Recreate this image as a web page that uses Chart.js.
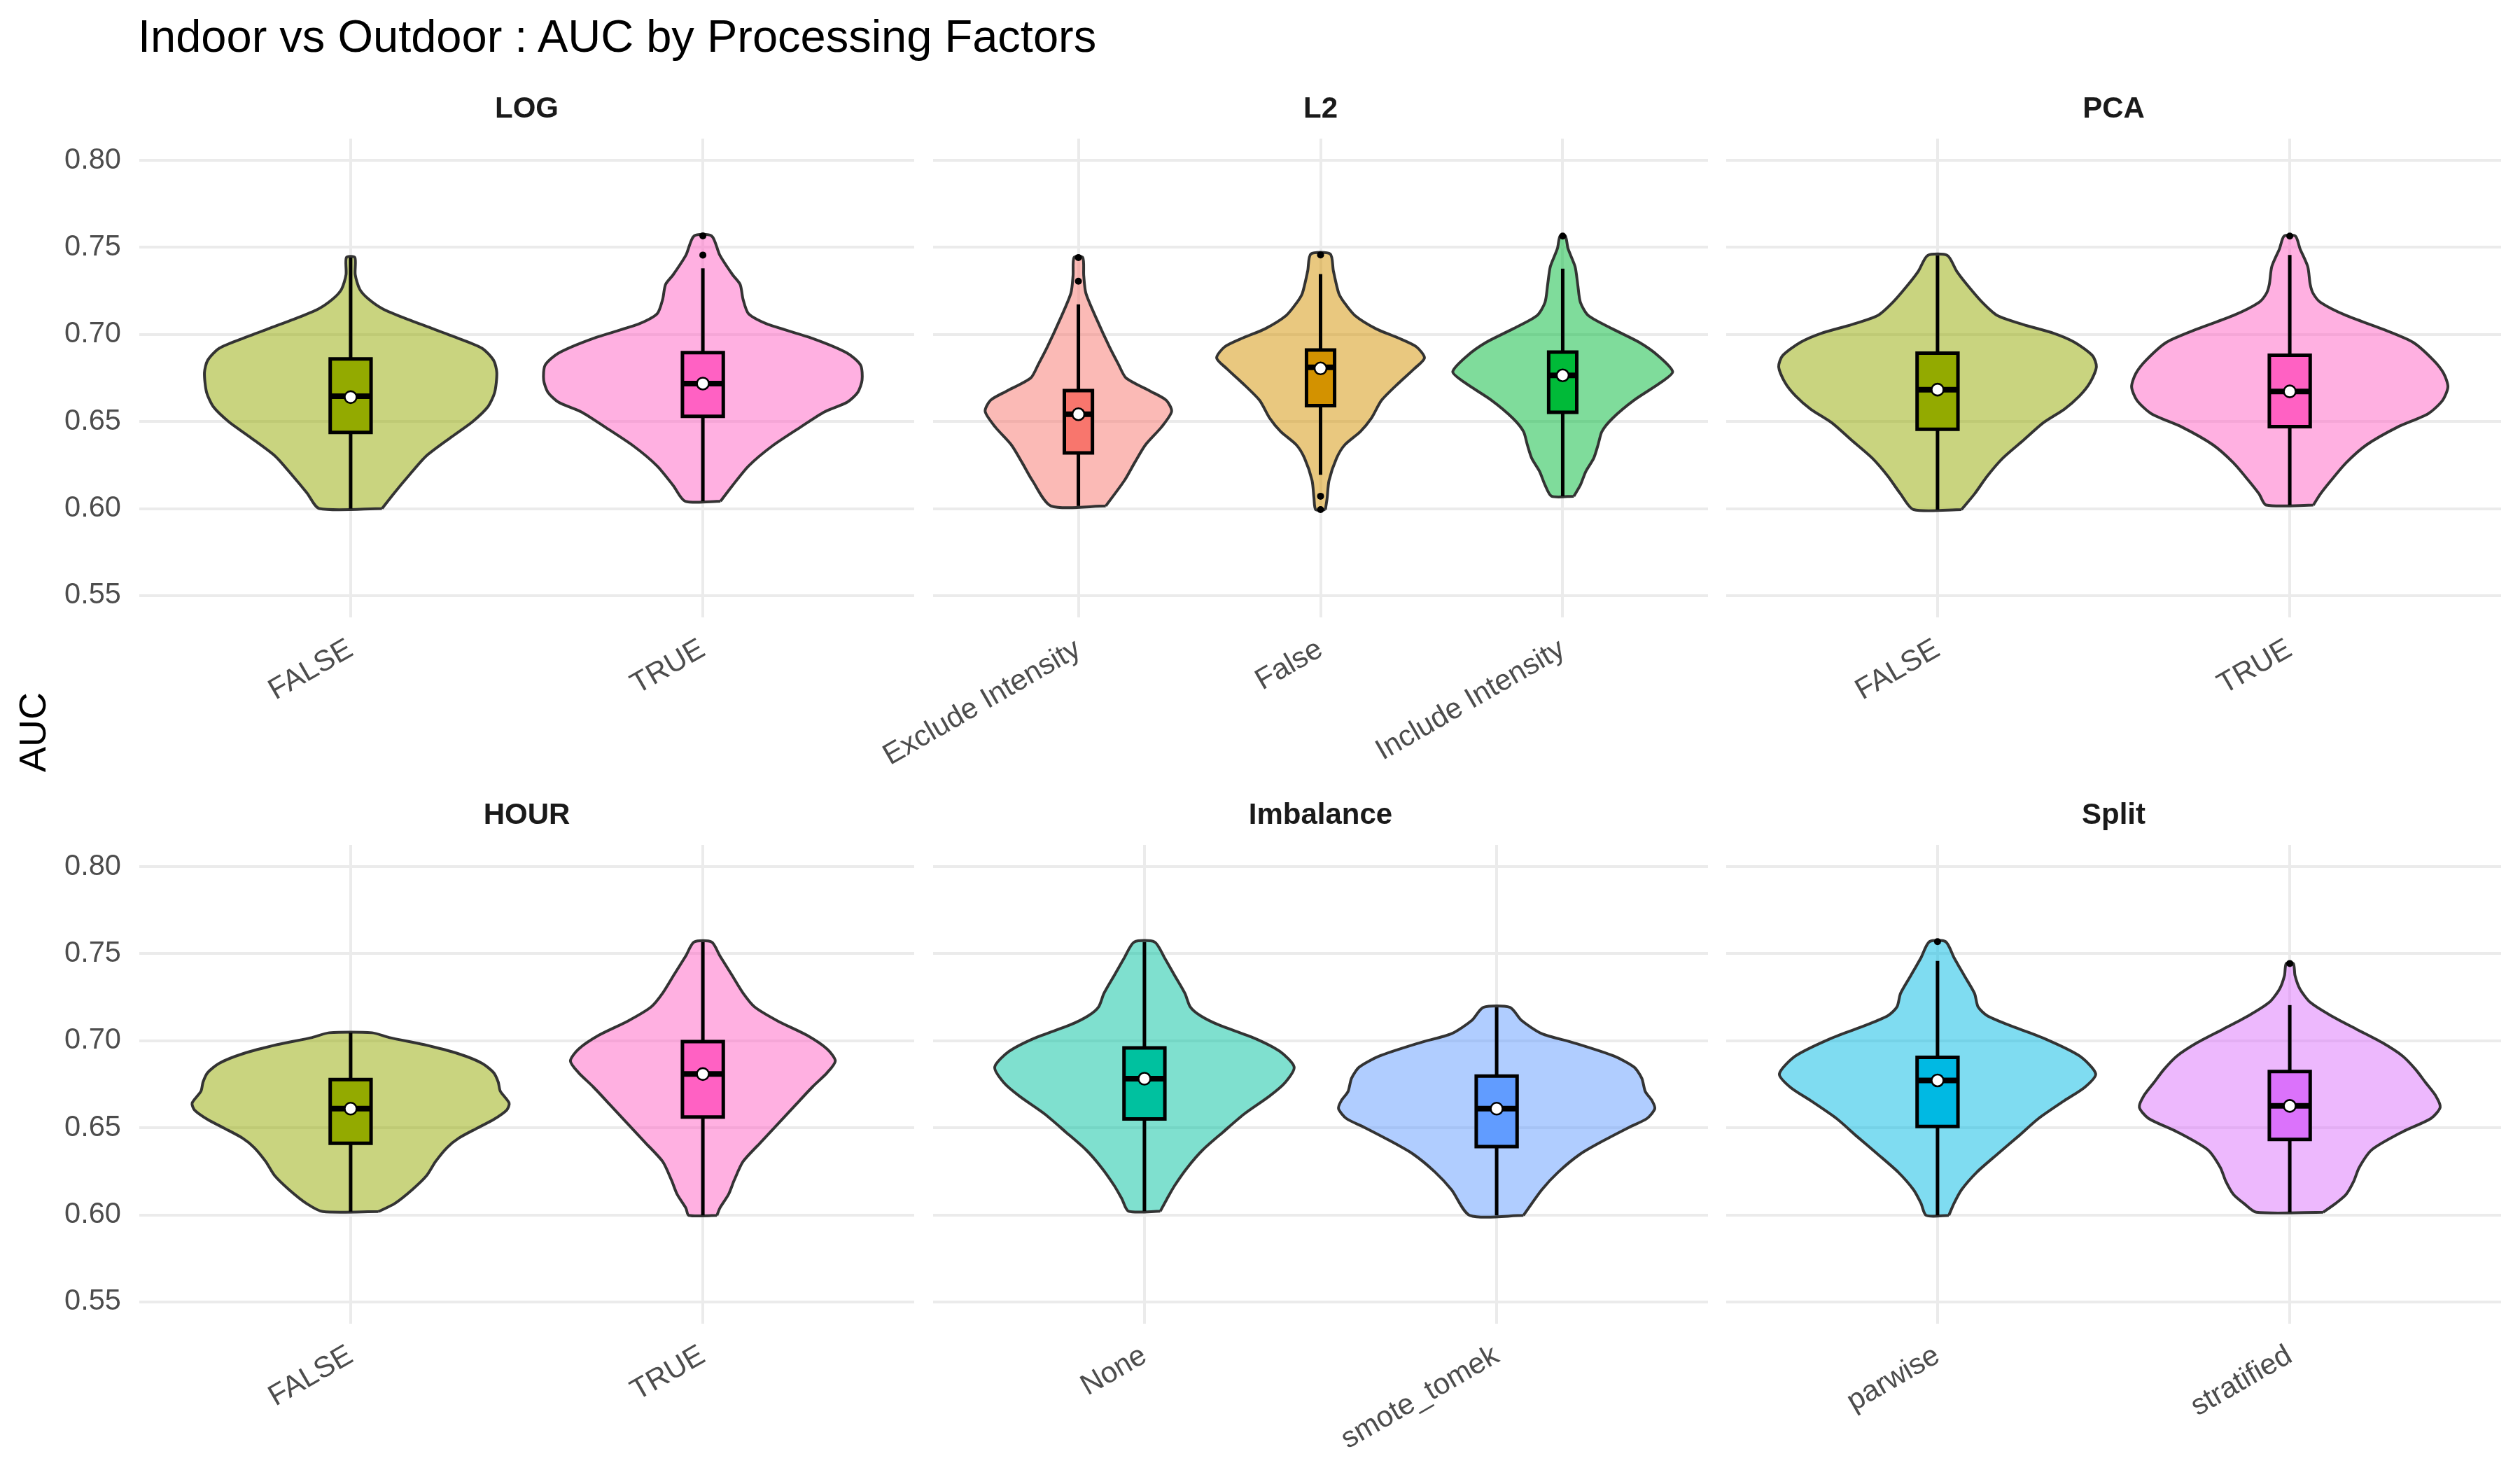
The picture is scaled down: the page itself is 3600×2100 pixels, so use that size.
<!DOCTYPE html>
<html>
<head>
<meta charset="utf-8">
<script src="https://cdn.jsdelivr.net/npm/chart.js@4/dist/chart.umd.min.js"></script>
<style>
html, body { margin: 0; padding: 0; background: #ffffff; }
#wrap { position: relative; width: 3600px; height: 2100px; background: #ffffff; overflow: hidden;
        font-family: "Liberation Sans", Arial, Helvetica, sans-serif; }
#title { position: absolute; left: 197px; top: 19px; font-size: 65px; line-height: 65px; color: #000000; white-space: nowrap; }
#ylab { position: absolute; left: 46px; top: 1046px; font-size: 54px; line-height: 54px; color: #000000; white-space: nowrap;
        transform: translate(-50%, -50%) rotate(-90deg); }
canvas { position: absolute; }
</style>
</head>
<body>
<div id="wrap">
  <div id="title">Indoor vs Outdoor : AUC by Processing Factors</div>
  <div id="ylab">AUC</div>
</div>
<script>
// ---------------- DATA ----------------
const panelNames = ["LOG", "L2", "PCA", "HOUR", "Imbalance", "Split"];
const catsLOG = ["FALSE", "TRUE"];
const catsL2 = ["Exclude Intensity", "False", "Include Intensity"];
const catsPCA = ["FALSE", "TRUE"];
const catsHOUR = ["FALSE", "TRUE"];
const catsImbalance = ["None", "smote_tomek"];
const catsSplit = ["parwise", "stratified"];
const yTicks = [0.55, 0.60, 0.65, 0.70, 0.75, 0.80];
const yMin = 0.5375, yMax = 0.8125;

// one entry per violin, in panel order
const violinPanel = [0, 0, 1, 1, 1, 2, 2, 3, 3, 4, 4, 5, 5];
const violinSlot  = [0, 1, 0, 1, 2, 0, 1, 0, 1, 0, 1, 0, 1];
const q1          = [0.6437, 0.6530, 0.6320, 0.6591, 0.6553, 0.6455, 0.6471, 0.6411, 0.6562, 0.6551, 0.6392, 0.6508, 0.6433];
const median      = [0.6645, 0.6718, 0.6542, 0.6811, 0.6765, 0.6683, 0.6673, 0.6610, 0.6809, 0.6782, 0.6610, 0.6772, 0.6626];
const q3          = [0.6860, 0.6896, 0.6678, 0.6911, 0.6899, 0.6893, 0.6881, 0.6777, 0.6995, 0.6959, 0.6797, 0.6905, 0.6823];
const mean        = [0.6640, 0.6718, 0.6542, 0.6805, 0.6765, 0.6683, 0.6673, 0.6610, 0.6809, 0.6782, 0.6610, 0.6772, 0.6626];
const whiskerLow  = [0.6000, 0.6042, 0.6015, 0.6194, 0.6071, 0.5994, 0.6020, 0.6019, 0.5997, 0.6021, 0.5997, 0.5997, 0.6015];
const whiskerHigh = [0.7442, 0.7380, 0.7173, 0.7347, 0.7378, 0.7454, 0.7457, 0.7046, 0.7567, 0.7567, 0.7192, 0.7459, 0.7205];
const outliers    = [[], [0.7566, 0.7456], [0.7442, 0.7306], [0.7457, 0.6071, 0.5994], [0.7565], [], [0.7565], [], [], [], [], [0.7569], [0.7444]];

// violin outlines: AUC levels (ascending) and half-widths (category units)
const vAucLogF = [0.6000,0.6090,0.6189,0.6301,0.6414,0.6499,0.6583,0.6668,0.6780,0.6851,0.6921,0.6977,0.7034,0.7090,0.7146,0.7203,0.7259,0.7344,0.7442];
const vHwLogF  = [0.089,0.124,0.165,0.214,0.288,0.346,0.389,0.409,0.415,0.406,0.373,0.307,0.232,0.158,0.092,0.051,0.026,0.013,0.012];
const vAucLogT = [0.6042,0.6132,0.6245,0.6358,0.6470,0.6555,0.6611,0.6668,0.6738,0.6823,0.6893,0.6977,0.7062,0.7118,0.7203,0.7287,0.7344,0.7456,0.7566];
const vHwLogT  = [0.050,0.084,0.130,0.196,0.279,0.345,0.410,0.440,0.452,0.448,0.410,0.312,0.180,0.130,0.114,0.106,0.084,0.048,0.025];
const vAucL2Ex = [0.6015,0.6161,0.6263,0.6366,0.6468,0.6558,0.6622,0.6673,0.6750,0.6827,0.6929,0.7083,0.7237,0.7339,0.7442];
const vHwL2Ex  = [0.113,0.190,0.232,0.277,0.343,0.385,0.363,0.299,0.197,0.166,0.128,0.077,0.031,0.022,0.018];
const vAucL2Fa = [0.5994,0.6058,0.6161,0.6289,0.6366,0.6443,0.6519,0.6622,0.6724,0.6801,0.6865,0.6929,0.6981,0.7032,0.7109,0.7185,0.7237,0.7365,0.7462];
const vHwL2Fa  = [0.020,0.027,0.035,0.066,0.100,0.165,0.210,0.252,0.325,0.385,0.429,0.396,0.319,0.230,0.142,0.097,0.075,0.053,0.040];
const vAucL2In = [0.6071,0.6135,0.6212,0.6289,0.6366,0.6443,0.6519,0.6622,0.6724,0.6786,0.6878,0.6955,0.7032,0.7109,0.7185,0.7288,0.7390,0.7493,0.7565];
const vHwL2In  = [0.046,0.073,0.095,0.128,0.146,0.162,0.206,0.294,0.405,0.454,0.394,0.316,0.206,0.106,0.073,0.062,0.051,0.022,0.011];
const vAucPcaF = [0.5994,0.6084,0.6186,0.6289,0.6391,0.6494,0.6571,0.6647,0.6724,0.6814,0.6878,0.6955,0.7006,0.7057,0.7109,0.7185,0.7288,0.7365,0.7454];
const vHwPcaF  = [0.068,0.105,0.141,0.185,0.243,0.301,0.360,0.403,0.433,0.451,0.440,0.389,0.331,0.243,0.170,0.127,0.083,0.054,0.028];
const vAucPcaT = [0.6020,0.6084,0.6161,0.6263,0.6366,0.6468,0.6545,0.6622,0.6699,0.6776,0.6852,0.6955,0.7032,0.7109,0.7185,0.7237,0.7288,0.7390,0.7493,0.7565];
const vHwPcaT  = [0.067,0.087,0.117,0.160,0.218,0.306,0.393,0.434,0.449,0.437,0.408,0.350,0.262,0.160,0.087,0.066,0.058,0.051,0.029,0.016];
const vAucHrF  = [0.6019,0.6065,0.6145,0.6226,0.6306,0.6387,0.6441,0.6495,0.6548,0.6602,0.6642,0.6710,0.6763,0.6817,0.6871,0.6925,0.6978,0.7019,0.7046];
const vHwHrF   = [0.079,0.125,0.175,0.216,0.241,0.274,0.307,0.356,0.406,0.443,0.450,0.425,0.419,0.406,0.373,0.307,0.208,0.109,0.061];
const vAucHrT  = [0.5997,0.6038,0.6118,0.6199,0.6306,0.6414,0.6522,0.6629,0.6737,0.6817,0.6884,0.6952,0.7032,0.7113,0.7194,0.7274,0.7382,0.7489,0.7567];
const vHwHrT   = [0.040,0.048,0.073,0.089,0.114,0.163,0.213,0.262,0.312,0.353,0.376,0.353,0.295,0.213,0.147,0.114,0.081,0.048,0.025];
const vAucNone = [0.6021,0.6092,0.6169,0.6272,0.6374,0.6477,0.6579,0.6682,0.6759,0.6849,0.6938,0.7015,0.7092,0.7144,0.7195,0.7272,0.7374,0.7477,0.7567];
const vHwNone  = [0.045,0.064,0.086,0.122,0.166,0.224,0.283,0.355,0.399,0.425,0.385,0.312,0.210,0.159,0.130,0.115,0.086,0.057,0.029];
const vAucSmote = [0.5997,0.6144,0.6246,0.6349,0.6426,0.6503,0.6554,0.6610,0.6656,0.6708,0.6785,0.6849,0.6913,0.6990,0.7041,0.7118,0.7192];
const vHwSmote  = [0.076,0.128,0.175,0.237,0.303,0.376,0.427,0.449,0.441,0.422,0.412,0.390,0.332,0.216,0.128,0.070,0.038];
const vAucPar  = [0.5997,0.6067,0.6144,0.6246,0.6349,0.6451,0.6554,0.6656,0.6733,0.6810,0.6913,0.7015,0.7092,0.7144,0.7195,0.7272,0.7374,0.7477,0.7569];
const vHwPar   = [0.032,0.047,0.068,0.112,0.170,0.229,0.287,0.360,0.418,0.449,0.403,0.301,0.200,0.141,0.115,0.105,0.076,0.047,0.023];
const vAucStr  = [0.6015,0.6067,0.6118,0.6195,0.6272,0.6374,0.6477,0.6554,0.6618,0.6682,0.6759,0.6836,0.6913,0.6990,0.7067,0.7144,0.7221,0.7297,0.7374,0.7444];
const vHwStr   = [0.095,0.131,0.160,0.182,0.197,0.233,0.320,0.401,0.427,0.415,0.386,0.357,0.320,0.262,0.189,0.117,0.058,0.029,0.015,0.010];

const violinAuc  = [vAucLogF, vAucLogT, vAucL2Ex, vAucL2Fa, vAucL2In, vAucPcaF, vAucPcaT, vAucHrF, vAucHrT, vAucNone, vAucSmote, vAucPar, vAucStr];
const violinHalf = [vHwLogF,  vHwLogT,  vHwL2Ex,  vHwL2Fa,  vHwL2In,  vHwPcaF,  vHwPcaT,  vHwHrF,  vHwHrT,  vHwNone,  vHwSmote,  vHwPar,  vHwStr];

// ---------------- STYLE ----------------
const levelColors = {
  "Exclude Intensity": "#F8766D", "False": "#D39200", "FALSE": "#93AA00",
  "Include Intensity": "#00BA38", "None": "#00C19F", "parwise": "#00B9E3",
  "smote_tomek": "#619CFF", "stratified": "#DB72FB", "TRUE": "#FF61C3"
};
const panelCats = [catsLOG, catsL2, catsPCA, catsHOUR, catsImbalance, catsSplit];
const PANEL_LEFT = [199, 1333, 2466], PANEL_TOP = [198, 1207];
const PANEL_W = 1107, PANEL_H = 684;
const YAXIS_W = 199, RIGHT_PAD = 20, TITLE_H = 77, XAXIS_H = 260;
const BOX_HALF = 0.058;
const FONT = '"Liberation Sans", Arial, Helvetica, sans-serif';
Chart.defaults.font.family = FONT;

function rgba(hex, a) {
  const n = parseInt(hex.slice(1), 16);
  return `rgba(${(n >> 16) & 255},${(n >> 8) & 255},${n & 255},${a})`;
}
function violinPoints(c, auc, half) {
  const pts = [];
  for (let i = 0; i < auc.length; i++) pts.push({x: c + half[i], y: auc[i]});
  for (let i = auc.length - 1; i >= 0; i--) pts.push({x: c - half[i], y: auc[i]});
  pts.push({x: c + half[0], y: auc[0]});
  return pts;
}

function buildDatasets(p) {
  const ds = [];
  const cats = panelCats[p];
  for (let v = 0; v < violinPanel.length; v++) {
    if (violinPanel[v] !== p) continue;
    const c = violinSlot[v];
    const col = levelColors[cats[c]];
    ds.push({ data: violinPoints(c, violinAuc[v], violinHalf[v]), borderColor: '#333333', borderWidth: 4,
      backgroundColor: rgba(col, 0.5), fill: 'shape', tension: 0.25, pointRadius: 0, order: 6 });
    ds.push({ data: [{x: c, y: q3[v]}, {x: c, y: whiskerHigh[v]}], borderColor: '#000000', borderWidth: 5,
      fill: false, pointRadius: 0, order: 5 });
    ds.push({ data: [{x: c, y: whiskerLow[v]}, {x: c, y: q1[v]}], borderColor: '#000000', borderWidth: 5,
      fill: false, pointRadius: 0, order: 5 });
    ds.push({ data: [{x: c - BOX_HALF, y: q1[v]}, {x: c + BOX_HALF, y: q1[v]}, {x: c + BOX_HALF, y: q3[v]},
                     {x: c - BOX_HALF, y: q3[v]}, {x: c - BOX_HALF, y: q1[v]}],
      borderColor: '#000000', borderWidth: 5, backgroundColor: col, fill: 'shape', tension: 0, pointRadius: 0,
      borderJoinStyle: 'miter', borderCapStyle: 'square', order: 4 });
    ds.push({ data: [{x: c - BOX_HALF, y: median[v]}, {x: c + BOX_HALF, y: median[v]}], borderColor: '#000000',
      borderWidth: 8, fill: false, pointRadius: 0, order: 3 });
    ds.push({ data: [{x: c, y: mean[v]}], showLine: false, pointRadius: 8.5, pointBackgroundColor: '#ffffff',
      pointBorderColor: '#000000', pointBorderWidth: 2.6, order: 2 });
    if (outliers[v].length) {
      ds.push({ data: outliers[v].map(y => ({x: c, y: y})), showLine: false, pointRadius: 5,
        pointBackgroundColor: '#000000', pointBorderColor: '#000000', pointBorderWidth: 0, order: 1 });
    }
  }
  return ds;
}

const wrap = document.getElementById('wrap');
for (let p = 0; p < panelNames.length; p++) {
  const col = p % 3, row = Math.floor(p / 3);
  const cats = panelCats[p];
  const W = YAXIS_W + PANEL_W + RIGHT_PAD, H = TITLE_H + PANEL_H + XAXIS_H;
  const canvas = document.createElement('canvas');
  canvas.width = W; canvas.height = H;
  canvas.style.left = (PANEL_LEFT[col] - YAXIS_W) + 'px';
  canvas.style.top = (PANEL_TOP[row] - TITLE_H) + 'px';
  canvas.style.width = W + 'px'; canvas.style.height = H + 'px';
  wrap.appendChild(canvas);
  new Chart(canvas, {
    type: 'line',
    data: { datasets: buildDatasets(p) },
    options: {
      responsive: false, devicePixelRatio: 1, animation: false, events: [],
      layout: { padding: { left: 0, right: RIGHT_PAD, top: 0, bottom: 0 } },
      plugins: {
        legend: { display: false }, tooltip: { enabled: false },
        title: { display: true, text: panelNames[p], fullSize: false, color: '#1A1A1A',
                 font: { size: 42, weight: 'bold', family: FONT, lineHeight: 1.2 },
                 padding: { top: 10, bottom: 16.6 } }
      },
      scales: {
        x: {
          type: 'linear', min: -0.6, max: cats.length - 1 + 0.6,
          afterBuildTicks: (s) => { s.ticks = cats.map((c, i) => ({ value: i })); },
          afterFit: (s) => { s.height = XAXIS_H; },
          ticks: { callback: (v) => cats[v], autoSkip: false, minRotation: 30, maxRotation: 30,
                   font: { size: 42, family: FONT }, color: '#4D4D4D', padding: 21 },
          grid: { color: '#EBEBEB', lineWidth: 4, drawTicks: false },
          border: { display: false }
        },
        y: {
          type: 'linear', min: yMin, max: yMax,
          afterBuildTicks: (s) => { s.ticks = yTicks.map(v => ({ value: v })); },
          afterFit: (s) => { s.width = YAXIS_W; },
          ticks: { display: col === 0, callback: (v) => v.toFixed(2),
                   font: { size: 41.6, family: FONT }, color: '#4D4D4D', padding: 26 },
          grid: { color: '#EBEBEB', lineWidth: 4, drawTicks: false },
          border: { display: false }
        }
      }
    }
  });
}
</script>
</body>
</html>
